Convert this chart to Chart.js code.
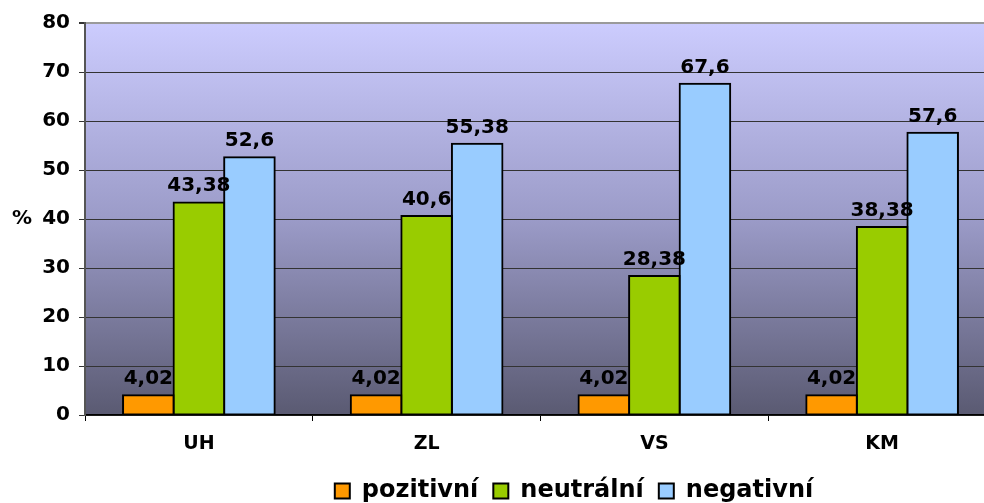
<!DOCTYPE html>
<html>
<head>
<meta charset="utf-8">
<script src="https://cdn.jsdelivr.net/npm/chart.js@4"></script>
<style>
  html, body { margin: 0; padding: 0; background: #fff; overflow: hidden; }
  #wrap { width: 996px; height: 503px; }
</style>
</head>
<body>
<div id="wrap"><canvas id="chart"></canvas></div>
<script>
// kraje a podíly odpovědí (%)
const regions = ['UH', 'ZL', 'VS', 'KM'];
const pozitivni = [4.02, 4.02, 4.02, 4.02];
const neutralni = [43.38, 40.6, 28.38, 38.38];
const negativni = [52.6, 55.38, 67.6, 57.6];
const seriesNames = ['pozitivní', 'neutrální', 'negativní'];
const seriesColors = ['#ff9900', '#99cc00', '#99ccff'];

const FONT = "'DejaVu Sans', Verdana, sans-serif";

// gradient pozadí plochy grafu
const bgPlugin = {
    id: 'bgGradient',
    beforeDraw(chart) {
        const { ctx, chartArea: a } = chart;
        const g = ctx.createLinearGradient(0, a.top, 0, a.bottom);
        g.addColorStop(0, '#ccccfe');
        g.addColorStop(0.5, '#9b9bc8');
        g.addColorStop(1, '#5a5a72');
        ctx.save();
        ctx.fillStyle = g;
        ctx.fillRect(a.left, a.top, a.right - a.left, a.bottom - a.top);
        ctx.restore();
    }
};

// popisky hodnot nad sloupci + znak % u osy
const labelPlugin = {
    id: 'valueLabels',
    afterDatasetsDraw(chart) {
        const ctx = chart.ctx;
        ctx.save();
        ctx.font = 'bold 20px ' + FONT;
        ctx.fillStyle = '#000';
        ctx.textAlign = 'center';
        ctx.textBaseline = 'alphabetic';
        chart.data.datasets.forEach((ds, i) => {
            chart.getDatasetMeta(i).data.forEach((bar, j) => {
                const txt = String(ds.data[j]).replace('.', ',');
                ctx.fillText(txt, bar.x, bar.y - 11);
            });
        });
        ctx.font = 'bold 20px ' + FONT;
        ctx.textBaseline = 'middle';
        const a = chart.chartArea;
        ctx.fillText('%', 22, (a.top + a.bottom) / 2);
        ctx.restore();
    }
};

// posun legendy (v originále není na středu)
const legendShift = {
    id: 'legendShift',
    afterLayout(chart) {
        const lg = chart.legend;
        const dx = 76, dy = 10;
        lg.left += dx; lg.right += dx;
        lg.top += dy; lg.bottom += dy;
    }
};

const datasets = [pozitivni, neutralni, negativni].map((vals, i) => ({
    label: seriesNames[i],
    data: vals,
    backgroundColor: seriesColors[i],
    borderColor: '#000',
    borderWidth: 2,
    borderSkipped: false,
    inflateAmount: 1,
    categoryPercentage: 0.666,
    barPercentage: 1
}));

new Chart(document.getElementById('chart'), {
    type: 'bar',
    data: { labels: regions, datasets: datasets },
    options: {
        responsive: true,
        maintainAspectRatio: false,
        animation: false,
        layout: { padding: { left: 0, right: 0, top: 23, bottom: 0 } },
        plugins: {
            legend: {
                position: 'bottom',
                labels: {
                    boxWidth: 15,
                    boxHeight: 15,
                    padding: 15,
                    color: '#000',
                    font: { family: FONT, size: 24, weight: 'bold' }
                }
            },
            tooltip: { enabled: false }
        },
        scales: {
            x: {
                offset: true,
                grid: { display: true, offset: true, drawOnChartArea: false, tickLength: 6, color: '#000' },
                border: { color: '#000', width: 1.5 },
                ticks: { color: '#000', padding: 12, font: { family: FONT, size: 19, weight: 'bold' } },
                afterFit(s) { s.height = 503 - 415 - s.chart.legend.height; }
            },
            y: {
                min: 0, max: 80,
                grid: {
                    color: ctx => ctx.tick && ctx.tick.value === 80 ? '#9a9a9a' : '#333',
                    lineWidth: ctx => ctx.tick && ctx.tick.value === 80 ? 2 : 1,
                    tickLength: 6,
                    tickColor: '#333'
                },
                border: { color: '#555', width: 2 },
                ticks: { stepSize: 10, color: '#000', padding: 9, font: { family: FONT, size: 20, weight: 'bold' } },
                afterFit(s) { s.width = 85; }
            }
        }
    },
    plugins: [bgPlugin, labelPlugin, legendShift]
});
</script>
</body>
</html>
